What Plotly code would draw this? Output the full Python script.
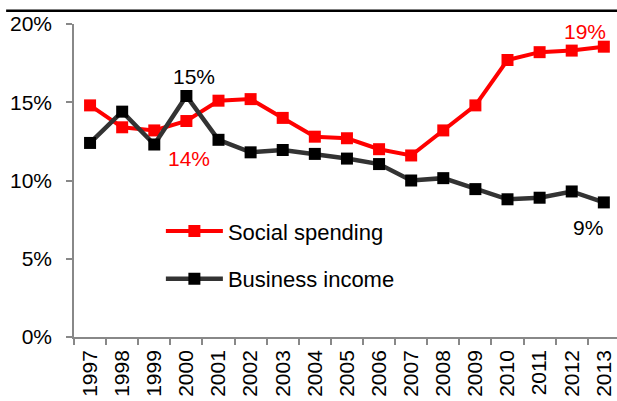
import plotly.graph_objects as go

years = [str(y) for y in range(1997, 2014)]
social = [14.8, 13.4, 13.2, 13.8, 15.1, 15.2, 14.0, 12.8, 12.7, 12.0, 11.6, 13.2, 14.8, 17.7, 18.2, 18.3, 18.55]
business = [12.4, 14.4, 12.3, 15.4, 12.6, 11.8, 11.95, 11.7, 11.4, 11.05, 10.0, 10.15, 9.45, 8.8, 8.9, 9.3, 8.6]
y_ticks = [0, 5, 10, 15, 20]
y_labels = ["0%", "5%", "10%", "15%", "20%"]

FONT = "Liberation Sans, Arial, sans-serif"

fig = go.Figure()
fig.add_trace(go.Scatter(
    x=years, y=social, name="Social spending", mode="lines+markers",
    line=dict(color="#FF0000", width=4),
    marker=dict(symbol="square", size=12, color="#FF0000"),
    legendgroup="a", cliponaxis=False,
))
fig.add_trace(go.Scatter(
    x=years, y=business, name="Business income", mode="lines+markers",
    line=dict(color="#333333", width=4.5),
    marker=dict(symbol="square", size=12, color="#000000"),
    legendgroup="b", cliponaxis=False,
))

# data labels (category axis: use category index)
i2000 = years.index("2000")
i2013 = years.index("2013")
fig.add_annotation(x=i2000, y=business[i2000], text="15%", showarrow=False,
                   yshift=19, xshift=8, font=dict(color="#000000", size=21, family=FONT))
fig.add_annotation(x=i2000, y=social[i2000], text="14%", showarrow=False,
                   yshift=-37, xshift=3, font=dict(color="#FF0000", size=21, family=FONT))
fig.add_annotation(x=i2013, y=social[i2013], text="19%", showarrow=False,
                   yshift=15, xshift=-19, font=dict(color="#FF0000", size=21, family=FONT))
fig.add_annotation(x=i2013, y=business[i2013], text="9%", showarrow=False,
                   yshift=-25, xshift=-16, font=dict(color="#000000", size=21, family=FONT))

# top rule
fig.add_shape(type="line", xref="paper", yref="paper",
              x0=-0.125, x1=1.01, y0=1.0425, y1=1.0425,
              line=dict(color="#000000", width=2.5))

fig.update_layout(
    width=617, height=401,
    margin=dict(l=74, r=0, t=24, b=64),
    paper_bgcolor="white", plot_bgcolor="white",
    font=dict(family=FONT, size=21, color="#000000"),
    showlegend=True,
    legend=dict(x=0.16, y=0.405, xanchor="left", yanchor="top",
                bgcolor="rgba(0,0,0,0)", font=dict(size=22, family=FONT),
                tracegroupgap=16, itemwidth=57),
    xaxis=dict(
        type="category", range=[-0.5, 16.41],
        showline=True, linecolor="#888888", linewidth=1.5,
        ticks="outside", ticklen=6, tickcolor="#888888", tickwidth=1.5,
        tickson="boundaries", tickangle=-90,
        ticklabelstandoff=3,
        tickfont=dict(size=21, family=FONT, color="#000000"),
        showgrid=False, zeroline=False,
    ),
    yaxis=dict(
        range=[0, 20], tickvals=y_ticks, ticktext=y_labels,
        showline=True, linecolor="#888888", linewidth=1.5,
        ticks="outside", ticklen=6, tickcolor="#888888", tickwidth=1.5,
        ticklabelstandoff=10,
        tickfont=dict(size=21, family=FONT, color="#000000"),
        showgrid=False, zeroline=False,
    ),
)

fig.write_html("out.html")
